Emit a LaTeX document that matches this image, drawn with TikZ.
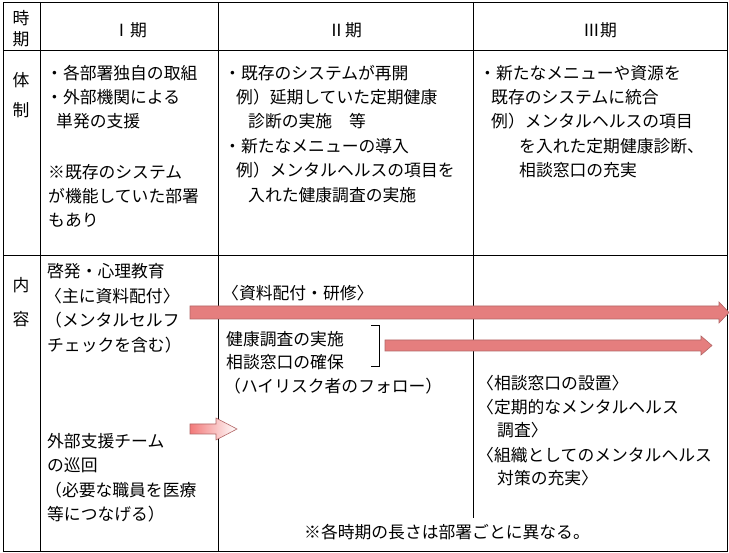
\documentclass[tikz,border=0pt]{standalone}
\usepackage{fontspec}
\setmainfont{Noto Sans CJK JP}
\begin{document}
\begin{tikzpicture}[x=1pt,y=-1pt,
  t/.style={anchor=west,inner sep=0pt,font=\fontsize{16.8}{16.8}\selectfont},
  c/.style={anchor=center,inner sep=0pt,font=\fontsize{16.8}{16.8}\selectfont},
  grid/.style={line width=0.8pt},
  fat/.style={fill=red!45!white!90!black,draw=red!50!black!60,line width=0.6pt}]
\useasboundingbox (0,0) rectangle (729,553);
\fill[white] (0,0) rectangle (729,553);
\draw[grid] (3,2) rectangle (727,551);
\draw[grid] (40,2) -- (40,551);
\draw[grid] (218,2) -- (218,551);
\draw[grid] (473,2) -- (473,518);
\draw[grid] (3,50) -- (727,50);
\draw[grid] (3,255) -- (727,255);
% header
\node[c] (h1) at (21,18) {時};
\node[c] (h2) at (21,39) {期};
\node[c] (p1) at (130,30) {Ⅰ期};
\node[c] (p2) at (345,30) {Ⅱ期};
\node[c] (p3) at (600,30) {Ⅲ期};
% row 2
\node[c] (r1) at (21,80) {体};
\node[c] (r2) at (21,110) {制};
\node[t] (a1) at (46,73) {・各部署独自の取組};
\node[t] (a2) at (46,97) {・外部機関による};
\node[t] (a3) at (56,121) {単発の支援};
\node[t] (a4) at (48,172) {※既存のシステム};
\node[t] (a5) at (48,196) {が機能していた部署};
\node[t] (a6) at (48,220) {もあり};
\node[t] (b1) at (224,73) {・既存のシステムが再開};
\node[t] (b2) at (236,97) {例）延期していた定期健康};
\node[t] (b3) at (248,121) {診断の実施　等};
\node[t] (b4) at (224,146) {・新たなメニューの導入};
\node[t] (b5) at (236,170) {例）メンタルヘルスの項目を};
\node[t] (b6) at (248,195) {入れた健康調査の実施};
\node[t] (c1) at (479,73) {・新たなメニューや資源を};
\node[t] (c2) at (491,97) {既存のシステムに統合};
\node[t] (c3) at (491,121) {例）メンタルヘルスの項目};
\node[t] (c4) at (519,146) {を入れた定期健康診断、};
\node[t] (c5) at (519,170) {相談窓口の充実};
% row 3
\node[c] (s1) at (21,285) {内};
\node[c] (s2) at (21,319) {容};
\node[t] (d1) at (47,271) {啓発・心理教育};
\node[t] (d2) at (45,296) {〈主に資料配付〉};
\node[t] (d3) at (45,320) {（メンタルセルフ};
\node[t] (d4) at (47,345) {チェックを含む）};
\node[t] (d5) at (47,441) {外部支援チーム};
\node[t] (d6) at (47,465) {の巡回};
\node[t] (d7) at (45,490) {（必要な職員を医療};
\node[t] (d8) at (47,514) {等につなげる）};
\node[t] (e1) at (222,293) {〈資料配付・研修〉};
\node[t] (e2) at (226,339) {健康調査の実施};
\node[t] (e3) at (226,362) {相談窓口の確保};
\node[t] (e4) at (224,386) {（ハイリスク者のフォロー）};
\node[t] (f1) at (477,383) {〈相談窓口の設置〉};
\node[t] (f2) at (477,407) {〈定期的なメンタルヘルス};
\node[t] (f3) at (497,430) {調査〉};
\node[t] (f4) at (477,455) {〈組織としてのメンタルヘルス};
\node[t] (f5) at (497,478) {対策の充実〉};
\node[c,fill=white,inner sep=2pt] (note) at (447,532) {※各時期の長さは部署ごとに異なる。};
% bracket
\draw[line width=0.9pt] (371,325) -- (379,325) -- (379,366) -- (371,366);
% fat arrows
\draw[fat] (190,306) -- (719,306) -- (719,302) -- (729,312.5) -- (719,323) -- (719,319) -- (190,319) -- cycle;
\draw[fat] (385,340) -- (701,340) -- (701,336) -- (712,345.5) -- (701,355) -- (701,351) -- (385,351) -- cycle;
\shade[left color=red!50!white!95!black,right color=white,draw=red!50!black!60,line width=0.6pt]
 (190,424) -- (216,424) -- (216,418) -- (237,429) -- (216,440) -- (216,434) -- (190,434) -- cycle;
\end{tikzpicture}
\end{document}
